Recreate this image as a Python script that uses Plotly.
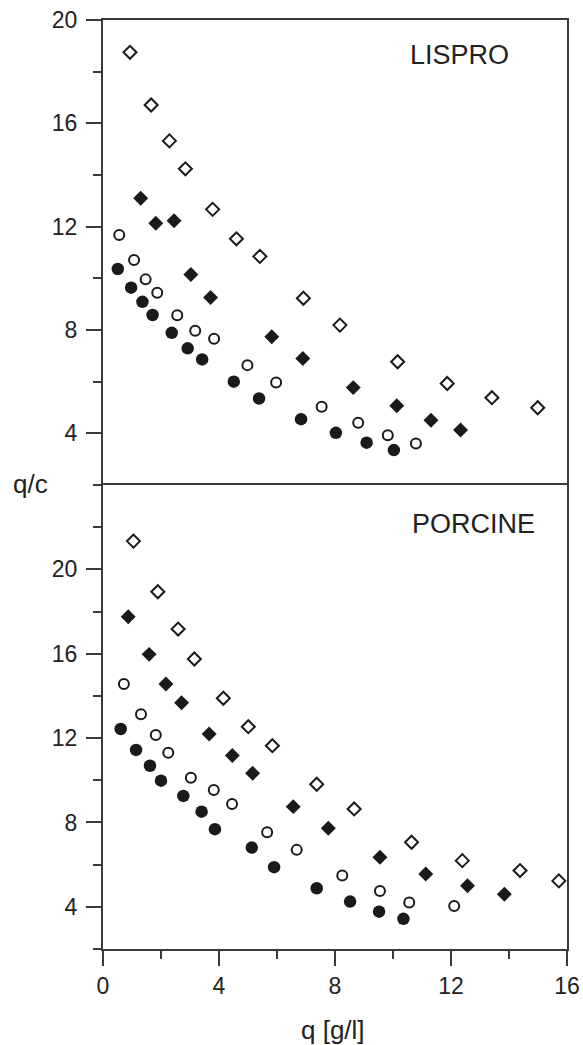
import plotly.graph_objects as go

# ---------------- LISPRO (top panel) ----------------
lis_open_dia_x = [0.93, 1.66, 2.29, 2.84, 3.78, 4.60, 5.41, 6.91, 8.17, 10.16, 11.87, 13.41, 14.99]
lis_open_dia_y = [18.75, 16.71, 15.32, 14.24, 12.67, 11.53, 10.85, 9.23, 8.19, 6.77, 5.93, 5.38, 4.99]

lis_fill_dia_x = [1.30, 1.82, 2.45, 3.03, 3.71, 5.82, 6.89, 8.63, 10.13, 11.31, 12.33]
lis_fill_dia_y = [13.10, 12.13, 12.23, 10.15, 9.26, 7.74, 6.90, 5.77, 5.07, 4.51, 4.13]

lis_open_circ_x = [0.56, 1.07, 1.47, 1.87, 2.56, 3.18, 3.83, 4.98, 5.97, 7.54, 8.80, 9.82, 10.79]
lis_open_circ_y = [11.68, 10.71, 9.96, 9.44, 8.57, 7.97, 7.66, 6.64, 5.97, 5.03, 4.41, 3.93, 3.61]

lis_fill_circ_x = [0.51, 0.97, 1.36, 1.71, 2.37, 2.92, 3.42, 4.51, 5.38, 6.83, 8.03, 9.09, 10.03]
lis_fill_circ_y = [10.36, 9.64, 9.09, 8.58, 7.89, 7.29, 6.86, 6.00, 5.35, 4.55, 4.02, 3.64, 3.35]

# ---------------- PORCINE (bottom panel) ----------------
por_open_dia_x = [1.05, 1.89, 2.59, 3.15, 4.15, 5.01, 5.84, 7.37, 8.66, 10.64, 12.39, 14.38, 15.72]
por_open_dia_y = [21.34, 18.94, 17.17, 15.75, 13.89, 12.54, 11.64, 9.81, 8.64, 7.06, 6.19, 5.72, 5.23]

por_fill_dia_x = [0.87, 1.59, 2.17, 2.71, 3.66, 4.46, 5.16, 6.56, 7.77, 9.55, 11.13, 12.57, 13.84]
por_fill_dia_y = [17.75, 15.97, 14.56, 13.68, 12.19, 11.17, 10.33, 8.75, 7.73, 6.35, 5.56, 5.00, 4.60]

por_open_circ_x = [0.72, 1.31, 1.82, 2.25, 3.03, 3.82, 4.45, 5.66, 6.68, 8.25, 9.55, 10.56, 12.11]
por_open_circ_y = [14.56, 13.13, 12.15, 11.31, 10.12, 9.54, 8.88, 7.54, 6.70, 5.48, 4.75, 4.20, 4.04]

por_fill_circ_x = [0.61, 1.14, 1.62, 2.00, 2.77, 3.40, 3.86, 5.13, 5.90, 7.37, 8.52, 9.52, 10.36]
por_fill_circ_y = [12.43, 11.44, 10.69, 9.98, 9.26, 8.51, 7.68, 6.81, 5.88, 4.88, 4.25, 3.77, 3.43]

x_ticks = [0, 4, 8, 12, 16]
x_minor = [2, 6, 10, 14]
y_ticks = [4, 8, 12, 16, 20]
y_minor_top = [2, 6, 10, 14, 18]
y_minor_bot = [2, 6, 10, 14, 18, 22]

INK = "#1a1a1a"
LINE = "#3a3a3a"
TXT = "#222222"
FONT = "Liberation Sans, Arial, sans-serif"

fig = go.Figure()


def add(x, y, xa, ya, symbol, filled, size):
    fig.add_trace(go.Scatter(
        x=x, y=y, mode="markers", xaxis=xa, yaxis=ya, showlegend=False,
        marker=dict(symbol=symbol, size=size,
                    color=INK if filled else "white",
                    line=dict(color=INK, width=0 if filled else 2)),
    ))


for xa, ya, series in [
    ("x", "y", [(lis_open_dia_x, lis_open_dia_y, "diamond", False, 10),
                (lis_fill_dia_x, lis_fill_dia_y, "diamond", True, 11.5),
                (lis_open_circ_x, lis_open_circ_y, "circle", False, 10),
                (lis_fill_circ_x, lis_fill_circ_y, "circle", True, 12.5)]),
    ("x2", "y2", [(por_open_dia_x, por_open_dia_y, "diamond", False, 10),
                  (por_fill_dia_x, por_fill_dia_y, "diamond", True, 11.5),
                  (por_open_circ_x, por_open_circ_y, "circle", False, 10),
                  (por_fill_circ_x, por_fill_circ_y, "circle", True, 12.5)]),
]:
    for sx, sy, sym, filled, size in series:
        add(sx, sy, xa, ya, sym, filled, size)

axis_common = dict(showline=True, linecolor=LINE, linewidth=2, mirror=True,
                   showgrid=False, zeroline=False, automargin=False,
                   tickcolor=LINE, tickwidth=2, ticklabeloverflow="allow")
tickfont = dict(family=FONT, size=23, color=TXT)

W, H = 583, 1045
L, R, T, B = 103, 16, 20, 96
plot_h = H - T - B
split = (949 - 485) / plot_h


def px_x(px):
    return (px - L) / (W - L - R)


def px_y(py):
    return (H - B - py) / plot_h


top_x = dict(axis_common)
top_x["mirror"] = False  # only the top frame line; the divider comes from the lower panel

fig.update_layout(
    width=W, height=H,
    margin=dict(l=L, r=R, t=T, b=B, autoexpand=False),
    paper_bgcolor="white", plot_bgcolor="white",
    hovermode=False,
    xaxis=dict(domain=[0, 1], anchor="y", range=[0, 16], matches="x2", side="top",
               showticklabels=False, ticks="", **top_x),
    yaxis=dict(domain=[split, 1], anchor="x", range=[2, 20],
               tickmode="array", tickvals=y_ticks, ticks="outside", ticklen=15,
               ticklabelstandoff=4, tickfont=tickfont,
               minor=dict(tickmode="array", tickvals=y_minor_top, ticks="outside",
                          ticklen=8, tickwidth=2, tickcolor=LINE),
               **axis_common),
    xaxis2=dict(domain=[0, 1], anchor="y2", range=[0, 16],
                tickmode="array", tickvals=x_ticks, ticks="outside", ticklen=15,
                tickfont=tickfont,
                minor=dict(tickmode="array", tickvals=x_minor, ticks="outside",
                           ticklen=8, tickwidth=2, tickcolor=LINE),
                **axis_common),
    yaxis2=dict(domain=[0, split], anchor="x2", range=[2, 24],
                tickmode="array", tickvals=y_ticks, ticks="outside", ticklen=15,
                ticklabelstandoff=4, tickfont=tickfont,
                minor=dict(tickmode="array", tickvals=y_minor_bot, ticks="outside",
                           ticklen=8, tickwidth=2, tickcolor=LINE),
                **axis_common),
    annotations=[
        dict(text="LISPRO", x=12.28, y=18.64, xref="x", yref="y", showarrow=False,
             xanchor="center", yanchor="middle",
             font=dict(family=FONT, size=27, color=TXT)),
        dict(text="PORCINE", x=12.79, y=22.15, xref="x2", yref="y2", showarrow=False,
             xanchor="center", yanchor="middle",
             font=dict(family=FONT, size=27, color=TXT)),
        dict(text="q/c", x=px_x(30), y=px_y(484), xref="paper", yref="paper",
             showarrow=False, xanchor="center", yanchor="middle",
             font=dict(family=FONT, size=26, color=TXT)),
        dict(text="q [g/l]", x=px_x(333), y=px_y(1030), xref="paper", yref="paper",
             showarrow=False, xanchor="center", yanchor="middle",
             font=dict(family=FONT, size=26, color=TXT)),
    ],
)

fig.write_html(
    "out.html",
    config={"displayModeBar": False, "staticPlot": True},
    post_script="document.body.style.margin='0';document.body.style.overflow='hidden';",
)
